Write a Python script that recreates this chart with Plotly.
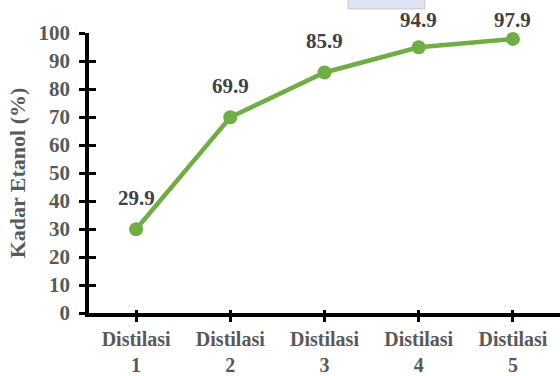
import plotly.graph_objects as go

categories = ["Distilasi<br>1", "Distilasi<br>2", "Distilasi<br>3", "Distilasi<br>4", "Distilasi<br>5"]
kadar_etanol = [29.9, 69.9, 85.9, 94.9, 97.9]
label_text = ["29.9", "69.9", "85.9", "94.9", "97.9"]
y_ticks = [0, 10, 20, 30, 40, 50, 60, 70, 80, 90, 100]

FONT = "Palatino Linotype, Book Antiqua, Liberation Serif, serif"
GREEN = "#70AD47"
AXIS_GRAY = "#595959"
LABEL_GRAY = "#404040"
PLOT_H = 280          # plot height in px (margins below)
LABEL_SHIFT = 31      # px above each point
LABEL_CAP = 104.5     # labels clamped under chart top (data units)

fig = go.Figure()
fig.add_trace(go.Scatter(
    x=categories, y=kadar_etanol, mode="lines+markers",
    line=dict(color=GREEN, width=4.5),
    marker=dict(color=GREEN, size=14),
    hoverinfo="skip", showlegend=False, cliponaxis=False,
))
# invisible trace for overlay axes (inside half of crossing ticks)
fig.add_trace(go.Scatter(
    x=categories, y=kadar_etanol, xaxis="x2", yaxis="y2",
    mode="markers", marker=dict(opacity=0), hoverinfo="skip", showlegend=False,
))

px_per_unit = PLOT_H / 100
for c, v, t in zip(categories, kadar_etanol, label_text):
    fig.add_annotation(
        x=c, y=v, text=t, showarrow=False,
        xanchor="center", yanchor="middle",
        yshift=min(LABEL_SHIFT, (LABEL_CAP - v) * px_per_unit),
        font=dict(family=FONT, size=21, color=LABEL_GRAY, weight="bold"),
    )

xtickfont = dict(family=FONT, size=20, color=AXIS_GRAY, weight="bold")
ytickfont = dict(family=FONT, size=21, color=AXIS_GRAY, weight="bold")
titlefont = dict(family=FONT, size=22, color=AXIS_GRAY, weight="bold")

fig.update_layout(
    width=560, height=376,
    margin=dict(l=89, r=0, t=33, b=63),
    paper_bgcolor="white", plot_bgcolor="white",
    xaxis=dict(
        type="category", range=[-0.5, 4.5], showgrid=False, zeroline=False,
        showline=True, linecolor="black", linewidth=3.5, automargin=False,
        ticks="outside", ticklen=5, tickwidth=3, tickcolor="black",
        tickfont=xtickfont, ticklabelstandoff=0,
    ),
    yaxis=dict(
        range=[0, 100], tickvals=y_ticks, showgrid=False, zeroline=False,
        showline=True, linecolor="black", linewidth=3.5, automargin=False,
        ticks="outside", ticklen=6, tickwidth=3, tickcolor="black",
        tickfont=ytickfont, ticklabelstandoff=5,
        title=dict(text="Kadar Etanol (%)", font=titlefont, standoff=8),
    ),
    xaxis2=dict(
        type="category", overlaying="x", matches="x", range=[-0.5, 4.5],
        showgrid=False, zeroline=False, showline=False, automargin=False,
        ticks="inside", ticklen=3, tickwidth=3, tickcolor="black",
        showticklabels=False, side="bottom",
    ),
    yaxis2=dict(
        overlaying="y", range=[0, 100], tickvals=y_ticks, automargin=False,
        showgrid=False, zeroline=False, showline=False,
        ticks="inside", ticklen=7, tickwidth=3, tickcolor="black",
        showticklabels=False, side="left",
    ),
    shapes=[dict(
        type="rect", xref="paper", yref="paper",
        x0=0.55, x1=0.713, y0=1.086, y1=1.2,
        fillcolor="#DEE2F2", line=dict(color="#C4C8D4", width=1), layer="below",
    )],
)

fig.write_html("out.html")
